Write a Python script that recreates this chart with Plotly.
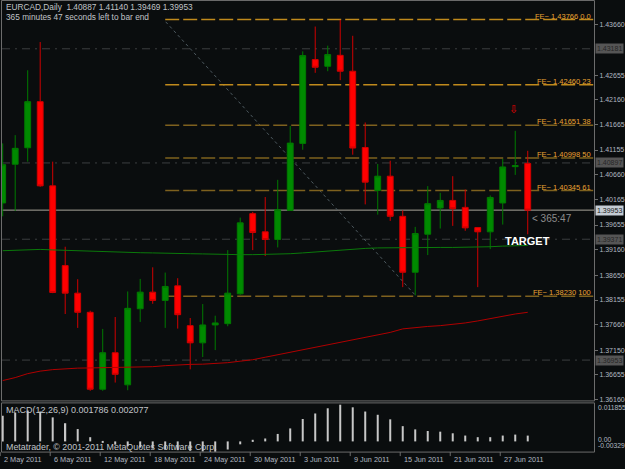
import plotly.graph_objects as go

# ---------------- data ----------------
dates = ["2011-05-02", "2011-05-03", "2011-05-04", "2011-05-05", "2011-05-06",
         "2011-05-09", "2011-05-10", "2011-05-11", "2011-05-12", "2011-05-13",
         "2011-05-16", "2011-05-17", "2011-05-18", "2011-05-19", "2011-05-20",
         "2011-05-23", "2011-05-24", "2011-05-25", "2011-05-26", "2011-05-27",
         "2011-05-30", "2011-05-31", "2011-06-01", "2011-06-02", "2011-06-03",
         "2011-06-06", "2011-06-07", "2011-06-08", "2011-06-09", "2011-06-10",
         "2011-06-13", "2011-06-14", "2011-06-15", "2011-06-16", "2011-06-17",
         "2011-06-20", "2011-06-21", "2011-06-22", "2011-06-23", "2011-06-24",
         "2011-06-27", "2011-06-28", "2011-06-29"]

opens = [1.40096, 1.40871, 1.41201, 1.42123, 1.40439, 1.38843, 1.38292, 1.37909, 1.36370, 1.37100,
         1.36458, 1.37980, 1.38312, 1.38147, 1.38438, 1.37642, 1.37298, 1.37656, 1.37682, 1.38278,
         1.39883, 1.39519, 1.39366, 1.39948, 1.41288, 1.42964, 1.42831, 1.43050, 1.42732, 1.41206,
         1.40346, 1.40632, 1.39829, 1.38710, 1.39471, 1.39996, 1.40147, 1.40008, 1.39604, 1.39519,
         1.40096, 1.40823, 1.40887]
highs = [1.41288, 1.41453, 1.42751, 1.43316, 1.40923, 1.39221, 1.38571, 1.37941, 1.37577, 1.37815,
         1.38326, 1.38577, 1.38809, 1.38704, 1.38591, 1.37795, 1.38074, 1.37841, 1.39153, 1.39803,
         1.39917, 1.40215, 1.40559, 1.41638, 1.43129, 1.43626, 1.43243, 1.43760, 1.43441, 1.41706,
         1.40877, 1.40942, 1.39948, 1.39618, 1.40433, 1.40300, 1.40632, 1.40366, 1.39612, 1.40247,
         1.40976, 1.41539, 1.41140]
lows = [1.39829, 1.39937, 1.40923, 1.40420, 1.38292, 1.37875, 1.37597, 1.36338, 1.36338, 1.36503,
        1.36350, 1.37716, 1.38080, 1.37597, 1.37583, 1.36768, 1.37014, 1.37153, 1.37630, 1.38259,
        1.39153, 1.39034, 1.39207, 1.39940, 1.41161, 1.42700, 1.42732, 1.42553, 1.41062, 1.40068,
        1.39863, 1.39738, 1.38412, 1.38247, 1.39054, 1.39585, 1.39638, 1.39539, 1.38412, 1.39173,
        1.39664, 1.40658, 1.39469]
closes = [1.40863, 1.41189, 1.42123, 1.40439, 1.38306, 1.38292, 1.37909, 1.36370, 1.37100, 1.36668,
          1.37988, 1.38312, 1.38147, 1.38426, 1.37861, 1.37298, 1.37656, 1.37696, 1.38292, 1.39698,
          1.39505, 1.39366, 1.39962, 1.41294, 1.43044, 1.42811, 1.43064, 1.42732, 1.41195, 1.40513,
          1.40632, 1.39829, 1.38710, 1.39485, 1.40082, 1.40147, 1.39982, 1.39598, 1.39519, 1.40207,
          1.40817, 1.40843, 1.39953]

ma_green = [1.39141, 1.39147, 1.39157, 1.39167, 1.39157, 1.39147, 1.39137, 1.39127, 1.39117, 1.39107,
            1.39101, 1.39101, 1.39097, 1.39087, 1.39081, 1.39081, 1.39077, 1.39068, 1.39062, 1.39062,
            1.39062, 1.39068, 1.39068, 1.39081, 1.39097, 1.39117, 1.39137, 1.39157, 1.39177, 1.39187,
            1.39197, 1.39201, 1.39207, 1.39207, 1.39207, 1.39207, 1.39207, 1.39207, 1.39213, 1.39221,
            1.39233, 1.39241, 1.39247]
ma_red = [1.36543, 1.36603, 1.36682, 1.36732, 1.36762, 1.36782, 1.36792, 1.36796, 1.36801, 1.36801,
          1.36801, 1.36811, 1.36821, 1.36841, 1.36861, 1.36867, 1.36871, 1.36881, 1.36901, 1.36931,
          1.36960, 1.37010, 1.37060, 1.37110, 1.37159, 1.37209, 1.37259, 1.37308, 1.37358, 1.37408,
          1.37457, 1.37507, 1.37577, 1.37607, 1.37626, 1.37642, 1.37666, 1.37696, 1.37736, 1.37786,
          1.37835, 1.37875, 1.37909]

macd = [0.0079, 0.0089, 0.0095, 0.0092, 0.0074, 0.0056, 0.0038, 0.0013, -0.0003, -0.0010,
        -0.0015, -0.0019, -0.0022, -0.0025, -0.0027, -0.0029, -0.0031, -0.0032, -0.0025, -0.0009,
        0.0005, 0.0009, 0.0023, 0.0040, 0.0069, 0.0086, 0.0102, 0.0113, 0.0105, 0.0092,
        0.0082, 0.0068, 0.0047, 0.0037, 0.0032, 0.0030, 0.0025, 0.0018, 0.0013, 0.0013,
        0.0018, 0.0021, 0.001786]

date_tick_idx = [0, 4, 8, 12, 16, 20, 24, 28, 32, 36, 40]
date_tick_labels = ["2 May 2011", "6 May 2011", "12 May 2011", "18 May 2011", "24 May 2011",
                    "30 May 2011", "3 Jun 2011", "9 Jun 2011", "15 Jun 2011", "21 Jun 2011",
                    "27 Jun 2011"]

price_ticks = [1.43660, 1.42655, 1.42160, 1.41665, 1.41155, 1.40660, 1.40165, 1.39655,
               1.39160, 1.38650, 1.38155, 1.37660, 1.37150, 1.36655, 1.36160]

fe_levels = [1.43766, 1.42460, 1.41651, 1.40998, 1.40345, 1.38230]
fe_pct = ["0.0", "23", "38", "50", "61", "100"]
fe_start_idx = 13

hlines = [1.43181, 1.40897, 1.39371, 1.36953]
bid = 1.39953
trend_start = (13.04, 1.43720)
trend_end = (32.98, 1.38259)

x = list(range(len(dates)))

# ---------------- layout helpers (pixel positions) ----------------
W, H = 625, 469
PL, PR = 2, 594          # plot area left/right in pixels
X_RANGE = [-0.056, 47.3]

def xp(px):
    return px / W

def yp(py):
    return 1 - py / H

def idx_px(i):
    return PL + (i - X_RANGE[0]) / (X_RANGE[1] - X_RANGE[0]) * (PR - PL)

BG = "#0a0d0e"
FONT = "Liberation Sans"
TXT = "#c0c4c8"
AX = "#b0b8c0"

fig = go.Figure()

fig.add_trace(go.Candlestick(
    x=x, open=opens, high=highs, low=lows, close=closes,
    increasing=dict(line=dict(color="#007a00", width=1), fillcolor="#008a00"),
    decreasing=dict(line=dict(color="#d00000", width=1), fillcolor="#ff0000"),
    whiskerwidth=0, showlegend=False, hoverinfo="skip",
    xaxis="x", yaxis="y"))

fig.add_trace(go.Scatter(x=x, y=ma_green, mode="lines",
                         line=dict(color="#0b7a0b", width=1), showlegend=False,
                         hoverinfo="skip", xaxis="x", yaxis="y"))
fig.add_trace(go.Scatter(x=x, y=ma_red, mode="lines",
                         line=dict(color="#b00000", width=1), showlegend=False,
                         hoverinfo="skip", xaxis="x", yaxis="y"))

fig.add_trace(go.Bar(x=x, y=macd, width=0.16, marker=dict(color="#c8c8c8", line=dict(width=0)),
                     showlegend=False, hoverinfo="skip", xaxis="x2", yaxis="y2"))

shapes = []
for h in hlines:
    shapes.append(dict(type="line", xref="x", yref="y", x0=X_RANGE[0], x1=X_RANGE[1], y0=h, y1=h,
                       line=dict(color="#3c3f41", width=1, dash="8px,5px,2px,5px"), layer="below"))
shapes.append(dict(type="line", xref="x", yref="y", x0=X_RANGE[0], x1=X_RANGE[1], y0=bid, y1=bid,
                   line=dict(color="#a8a49a", width=1), layer="below"))
shapes.append(dict(type="line", xref="x", yref="y", x0=trend_start[0], y0=trend_start[1],
                   x1=trend_end[0], y1=trend_end[1],
                   line=dict(color="#4e5a60", width=1, dash="dot"), layer="below"))
for lvl, pct in zip(fe_levels, fe_pct):
    col = "#c08a1c" if pct in ("0.0", "23") else "#7e611e"
    shapes.append(dict(type="line", xref="x", yref="y", x0=fe_start_idx, x1=X_RANGE[1], y0=lvl, y1=lvl,
                       line=dict(color=col, width=1.5, dash="14px,4px"), layer="below"))
frame_col = "#6c6c6c"
shapes.append(dict(type="rect", xref="paper", yref="paper", x0=xp(1.5), x1=xp(594.5),
                   y0=yp(403.5), y1=yp(0.5), line=dict(color=frame_col, width=1)))
shapes.append(dict(type="rect", xref="paper", yref="paper", x0=xp(1.5), x1=xp(594.5),
                   y0=yp(455), y1=yp(405.5), line=dict(color=frame_col, width=1)))
for i in date_tick_idx:
    tx = xp(idx_px(i) - 2.5)
    shapes.append(dict(type="line", xref="paper", yref="paper", x0=tx, x1=tx,
                       y0=yp(455), y1=yp(459), line=dict(color=frame_col, width=1)))

annotations = []
annotations.append(dict(xref="paper", yref="paper", x=xp(4), y=yp(6.8), xanchor="left", yanchor="middle",
                        text="EURCAD,Daily  1.40887 1.41140 1.39469 1.39953", showarrow=False,
                        font=dict(family=FONT, size=8.3, color=TXT)))
annotations.append(dict(xref="paper", yref="paper", x=xp(4), y=yp(16.8), xanchor="left", yanchor="middle",
                        text="365 minutes 47 seconds left to bar end", showarrow=False,
                        font=dict(family=FONT, size=8.3, color=TXT)))
for lvl, pct in zip(fe_levels, fe_pct):
    annotations.append(dict(xref="paper", yref="y", x=xp(593), y=lvl, xanchor="right", yanchor="bottom",
                            text="FE~ %.5f %s" % (lvl, pct), showarrow=False, yshift=-3,
                            font=dict(family=FONT, size=7.5, color="#eaa232")))
for h in hlines:
    annotations.append(dict(xref="paper", yref="y", x=xp(595), y=h, xanchor="left", yanchor="middle",
                            text="%.5f" % h, showarrow=False, bgcolor="#555555", borderpad=1,
                            font=dict(family=FONT, size=7, color="#262626")))
annotations.append(dict(xref="paper", yref="y", x=xp(595), y=bid, xanchor="left", yanchor="middle",
                        text="%.5f" % bid, showarrow=False, bgcolor="#c4ccd4", borderpad=1,
                        font=dict(family=FONT, size=7, color="#202020")))
annotations.append(dict(xref="x", yref="y", x=42.2, y=bid, xanchor="left", yanchor="top",
                        text="&lt; 365:47", showarrow=False, yshift=-1,
                        font=dict(family=FONT, size=10, color="#8c8c8c")))
annotations.append(dict(xref="x", yref="y", x=42.0, y=1.39330, xanchor="center", yanchor="middle",
                        text="<b>TARGET</b>", showarrow=False,
                        font=dict(family=FONT, size=11, color="#ffffff")))
annotations.append(dict(xref="x", yref="y", x=40.9, y=1.41960, xanchor="center", yanchor="middle",
                        text="⇩", showarrow=False,
                        font=dict(family="DejaVu Sans", size=11, color="#e00000")))
annotations.append(dict(xref="paper", yref="paper", x=xp(4), y=yp(413), xanchor="left", yanchor="middle",
                        text="MACD(12,26,9) 0.001786 0.002077", showarrow=False,
                        font=dict(family=FONT, size=9, color=TXT)))
annotations.append(dict(xref="paper", yref="paper", x=xp(4), y=yp(450), xanchor="left", yanchor="middle",
                        text="Metatrader, © 2001-2011 MetaQuotes Software Corp.", showarrow=False,
                        font=dict(family=FONT, size=8.9, color=TXT)))
for txt, py in (("0.011855", 410), ("0.00", 442), ("-0.00329", 448.5)):
    annotations.append(dict(xref="paper", yref="paper", x=xp(596), y=yp(py), xanchor="left",
                            yanchor="middle", text=txt, showarrow=False,
                            font=dict(family=FONT, size=6.8, color=AX)))
for i, lab in zip(date_tick_idx, date_tick_labels):
    annotations.append(dict(xref="paper", yref="paper", x=xp(max(idx_px(i) - 1, 1)), y=yp(462),
                            xanchor="left", yanchor="middle", text=lab, showarrow=False,
                            font=dict(family=FONT, size=7.3, color=AX)))

fig.update_layout(
    width=W, height=H, margin=dict(l=0, r=0, t=0, b=0),
    paper_bgcolor=BG, plot_bgcolor=BG, boxgap=0.33,
    xaxis=dict(domain=[xp(PL), xp(PR)], range=X_RANGE, showgrid=False, zeroline=False,
               showticklabels=False, ticks="", rangeslider=dict(visible=False), anchor="y",
               fixedrange=True),
    xaxis2=dict(domain=[xp(PL), xp(PR)], range=X_RANGE, showgrid=False, zeroline=False,
                showticklabels=False, ticks="", anchor="y2", fixedrange=True),
    yaxis=dict(domain=[yp(403), yp(1)], range=[1.36146, 1.44137], side="right", showgrid=False,
               zeroline=False, tickvals=price_ticks, ticktext=["%.5f" % v for v in price_ticks],
               ticks="outside", ticklen=3, tickcolor=frame_col,
               tickfont=dict(family=FONT, size=7, color=AX), anchor="x", fixedrange=True),
    yaxis2=dict(domain=[yp(455), yp(405.5)], range=[-0.00329, 0.011855], showgrid=False,
                zeroline=False, showticklabels=False, anchor="x2", fixedrange=True),
    shapes=shapes, annotations=annotations, showlegend=False,
)

fig.write_html("out.html")
